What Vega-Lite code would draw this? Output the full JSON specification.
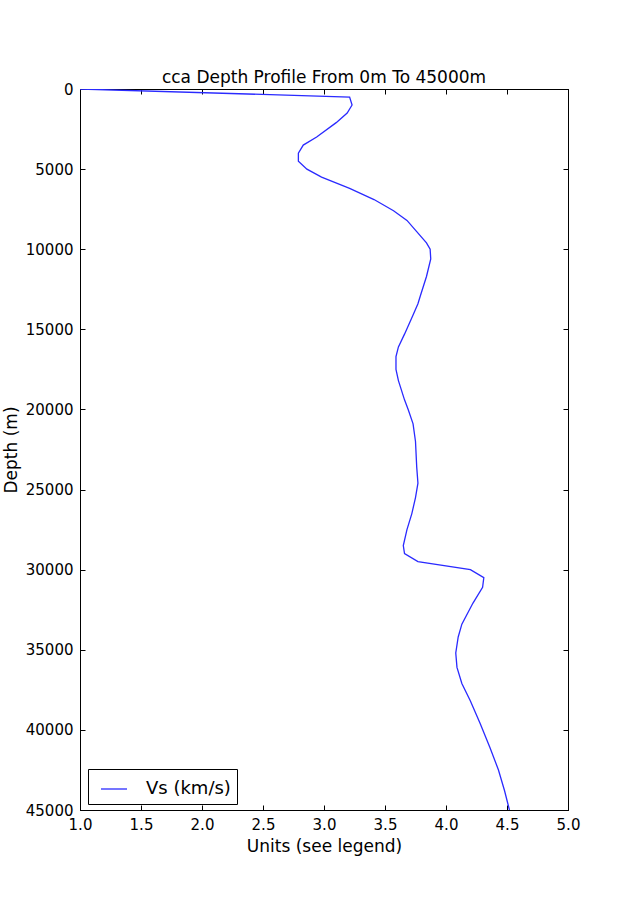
{
  "$schema": "https://vega.github.io/schema/vega-lite/v6.json",
  "autosize": {"type": "none"},
  "padding": {"left": 80, "top": 89, "right": 62, "bottom": 90},
  "width": 488,
  "height": 721,
  "background": "white",
  "config": {
    "font": "DejaVu Sans",
    "view": {"stroke": "black", "strokeWidth": 1}
  },
  "title": {"text": "cca Depth Profile From 0m To 45000m", "fontSize": 17, "fontWeight": "normal", "font": "DejaVu Sans", "color": "black", "offset": -5},
  "data": {"values": [
    {"depth": 0, "vs": 1.0},
    {"depth": 500, "vs": 3.21},
    {"depth": 1000, "vs": 3.23},
    {"depth": 1500, "vs": 3.19},
    {"depth": 2100, "vs": 3.10},
    {"depth": 3000, "vs": 2.94},
    {"depth": 3500, "vs": 2.83},
    {"depth": 4000, "vs": 2.79},
    {"depth": 4500, "vs": 2.79},
    {"depth": 5000, "vs": 2.86},
    {"depth": 5500, "vs": 2.98},
    {"depth": 6200, "vs": 3.21},
    {"depth": 6900, "vs": 3.41},
    {"depth": 7600, "vs": 3.57},
    {"depth": 8200, "vs": 3.68},
    {"depth": 8900, "vs": 3.76},
    {"depth": 9600, "vs": 3.84},
    {"depth": 10000, "vs": 3.87},
    {"depth": 10600, "vs": 3.875},
    {"depth": 11700, "vs": 3.84},
    {"depth": 12900, "vs": 3.79},
    {"depth": 13400, "vs": 3.77},
    {"depth": 14100, "vs": 3.73},
    {"depth": 15300, "vs": 3.66},
    {"depth": 16100, "vs": 3.61},
    {"depth": 16700, "vs": 3.59},
    {"depth": 17500, "vs": 3.59},
    {"depth": 18200, "vs": 3.61},
    {"depth": 19400, "vs": 3.66},
    {"depth": 20000, "vs": 3.69},
    {"depth": 20900, "vs": 3.73},
    {"depth": 22000, "vs": 3.75},
    {"depth": 23600, "vs": 3.76},
    {"depth": 24600, "vs": 3.77},
    {"depth": 25500, "vs": 3.75},
    {"depth": 26500, "vs": 3.72},
    {"depth": 27500, "vs": 3.68},
    {"depth": 28500, "vs": 3.65},
    {"depth": 29000, "vs": 3.66},
    {"depth": 29500, "vs": 3.77},
    {"depth": 30000, "vs": 4.20},
    {"depth": 30500, "vs": 4.31},
    {"depth": 31100, "vs": 4.30},
    {"depth": 32100, "vs": 4.22},
    {"depth": 33400, "vs": 4.13},
    {"depth": 34200, "vs": 4.10},
    {"depth": 35200, "vs": 4.08},
    {"depth": 36100, "vs": 4.09},
    {"depth": 37100, "vs": 4.13},
    {"depth": 38200, "vs": 4.20},
    {"depth": 39600, "vs": 4.28},
    {"depth": 41100, "vs": 4.36},
    {"depth": 42500, "vs": 4.43},
    {"depth": 43800, "vs": 4.48},
    {"depth": 45000, "vs": 4.52}
  ]},
  "transform": [{"calculate": "'Vs (km/s)'", "as": "series"}],
  "resolve": {"axis": {"x": "independent", "y": "independent"}},
  "layer": [
    {
      "mark": {"type": "line", "strokeWidth": 1.3, "clip": true},
      "encoding": {
        "x": {"field": "vs", "type": "quantitative",
              "scale": {"domain": [1, 5], "nice": false, "zero": false},
              "axis": {"orient": "bottom", "title": "Units (see legend)", "values": [1, 1.5, 2, 2.5, 3, 3.5, 4, 4.5, 5], "format": ".1f",
                       "grid": false, "domainColor": "black", "tickColor": "black", "tickSize": -5, "labelPadding": 12,
                       "labelColor": "black", "labelFontSize": 15, "labelFlush": false, "titleFontSize": 17, "titleFontWeight": "normal", "titleColor": "black", "titlePadding": 6}},
        "y": {"field": "depth", "type": "quantitative",
              "scale": {"domain": [0, 45000], "reverse": true, "nice": false},
              "axis": {"orient": "left", "title": "Depth (m)", "values": [0, 5000, 10000, 15000, 20000, 25000, 30000, 35000, 40000, 45000], "format": "d",
                       "grid": false, "domainColor": "black", "tickColor": "black", "tickSize": -5, "labelPadding": 12,
                       "labelColor": "black", "labelFontSize": 15, "labelFlush": false, "titleFontSize": 17, "titleFontWeight": "normal", "titleColor": "black", "titlePadding": 5}},
        "order": {"field": "depth", "type": "quantitative"},
        "color": {"field": "series", "type": "nominal",
                  "scale": {"range": ["#2a2aff"]},
                  "legend": {"title": null, "orient": "none", "legendX": 8, "legendY": 680,
                             "symbolType": "stroke", "symbolSize": 676, "symbolStrokeWidth": 1.3, "symbolOffset": 6,
                             "labelFontSize": 18, "labelColor": "black", "labelOffset": 18,
                             "strokeColor": "black", "fillColor": "white", "padding": 6, "cornerRadius": 0}}
      }
    },
    {
      "mark": {"type": "line", "opacity": 0},
      "encoding": {
        "x": {"field": "vs", "type": "quantitative",
              "axis": {"orient": "top", "title": null, "labels": false, "values": [1, 1.5, 2, 2.5, 3, 3.5, 4, 4.5, 5],
                       "grid": false, "domainColor": "black", "tickColor": "black", "tickSize": -5}},
        "y": {"field": "depth", "type": "quantitative",
              "axis": {"orient": "right", "title": null, "labels": false, "values": [0, 5000, 10000, 15000, 20000, 25000, 30000, 35000, 40000, 45000],
                       "grid": false, "domainColor": "black", "tickColor": "black", "tickSize": -5}},
        "order": {"field": "depth", "type": "quantitative"}
      }
    }
  ]
}
